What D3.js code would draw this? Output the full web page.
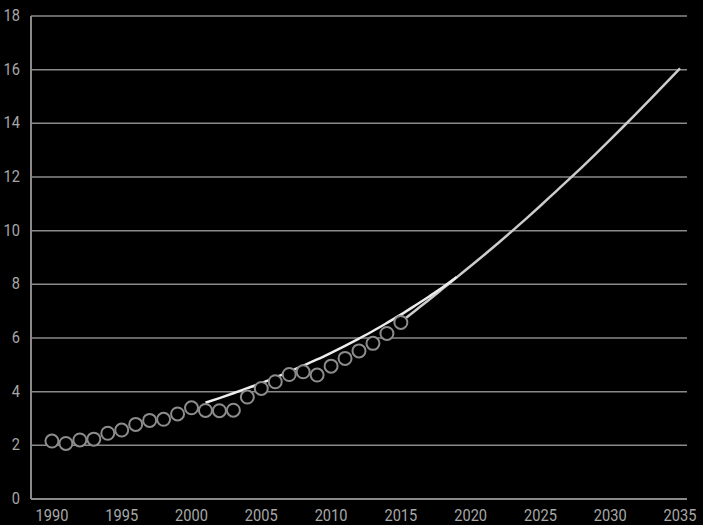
<!DOCTYPE html>
<html>
<head>
<meta charset="utf-8">
<script src="https://cdn.jsdelivr.net/npm/d3@7"></script>
<style>
  html, body { margin: 0; padding: 0; background: #000; }
  svg { display: block; }
  text { font-family: Roboto, "Liberation Sans", sans-serif; }
</style>
</head>
<body>
<svg id="chart" width="703" height="525"></svg>
<script>
// Observed series (circles)
const obsYears = [1990,1991,1992,1993,1994,1995,1996,1997,1998,1999,2000,2001,2002,2003,2004,2005,2006,2007,2008,2009,2010,2011,2012,2013,2014,2015];
const obsValues = [2.16,2.07,2.20,2.23,2.45,2.57,2.78,2.93,2.97,3.17,3.40,3.30,3.29,3.31,3.80,4.12,4.37,4.64,4.74,4.62,4.95,5.24,5.52,5.80,6.17,6.58];

// Fitted trend line (white)
const fitYears = [2001,2002,2003,2004,2005,2006,2007,2008,2009,2010,2011,2012,2013,2014,2015,2016,2017,2018,2019];
const fitValues = [3.59,3.76,3.94,4.13,4.32,4.53,4.74,4.97,5.20,5.45,5.71,5.98,6.26,6.56,6.87,7.20,7.54,7.89,8.27];

// Projection line (light grey)
const projYears = [2015,2016,2017,2018,2019,2020,2021,2022,2023,2024,2025,2026,2027,2028,2029,2030,2031,2032,2033,2034,2035];
const projValues = [6.60,7.01,7.42,7.84,8.26,8.68,9.11,9.55,10.00,10.46,10.93,11.41,11.89,12.38,12.88,13.39,13.91,14.44,14.97,15.51,16.05];

const xTicks = [1990,1995,2000,2005,2010,2015,2020,2025,2030,2035];
const yTicks = [0,2,4,6,8,10,12,14,16,18];

(function () {
const svg = d3.select("#chart");
const mLeft = 31, mRight = 687, mTop = 16, mBottom = 499;

const x = d3.scaleLinear().domain([1988.5, 2035.5]).range([mLeft, mRight]);
const y = d3.scaleLinear().domain([0, 18]).range([mBottom, mTop]);

const gridColor = "#8a8a8a";
const textColor = "#a8a8a8";
const squeeze = 0.86;

// Gridlines
svg.append("g").selectAll("line")
  .data(yTicks.filter(d => d > 0))
  .join("line")
  .attr("x1", mLeft).attr("x2", mRight)
  .attr("y1", d => y(d)).attr("y2", d => y(d))
  .attr("stroke", gridColor).attr("stroke-width", 1.5);

// Axes lines
svg.append("line").attr("x1", mLeft).attr("x2", mLeft).attr("y1", y(18)).attr("y2", y(0))
  .attr("stroke", gridColor).attr("stroke-width", 2);
svg.append("line").attr("x1", mLeft).attr("x2", mRight).attr("y1", y(0)).attr("y2", y(0))
  .attr("stroke", gridColor).attr("stroke-width", 2);

// Y labels
svg.append("g").selectAll("text")
  .data(yTicks).join("text")
  .attr("transform", d => `translate(20,${y(d)}) scale(${squeeze},1)`)
  .attr("dy", "0.3em")
  .attr("text-anchor", "end")
  .attr("font-size", 17).attr("fill", textColor)
  .text(d => d);

// X labels
svg.append("g").selectAll("text")
  .data(xTicks).join("text")
  .attr("transform", d => `translate(${x(d)},521) scale(${squeeze},1)`)
  .attr("text-anchor", "middle")
  .attr("font-size", 17).attr("fill", textColor)
  .text(d => d);

const line = d3.line().x(d => x(d[0])).y(d => y(d[1])).curve(d3.curveMonotoneX);

svg.append("path")
  .datum(projYears.map((yr, i) => [yr, projValues[i]]))
  .attr("d", line).attr("fill", "none")
  .attr("stroke", "#cccccc").attr("stroke-width", 2.5);

svg.append("path")
  .datum(fitYears.map((yr, i) => [yr, fitValues[i]]))
  .attr("d", line).attr("fill", "none")
  .attr("stroke", "#ececec").attr("stroke-width", 2.5);

// Circles
svg.append("g").selectAll("circle")
  .data(obsYears.map((yr, i) => [yr, obsValues[i]]))
  .join("circle")
  .attr("cx", d => x(d[0])).attr("cy", d => y(d[1]))
  .attr("r", 6.5)
  .attr("fill", "#000").attr("stroke", "#8c8c8c").attr("stroke-width", 2);
})();
</script>
</body>
</html>
